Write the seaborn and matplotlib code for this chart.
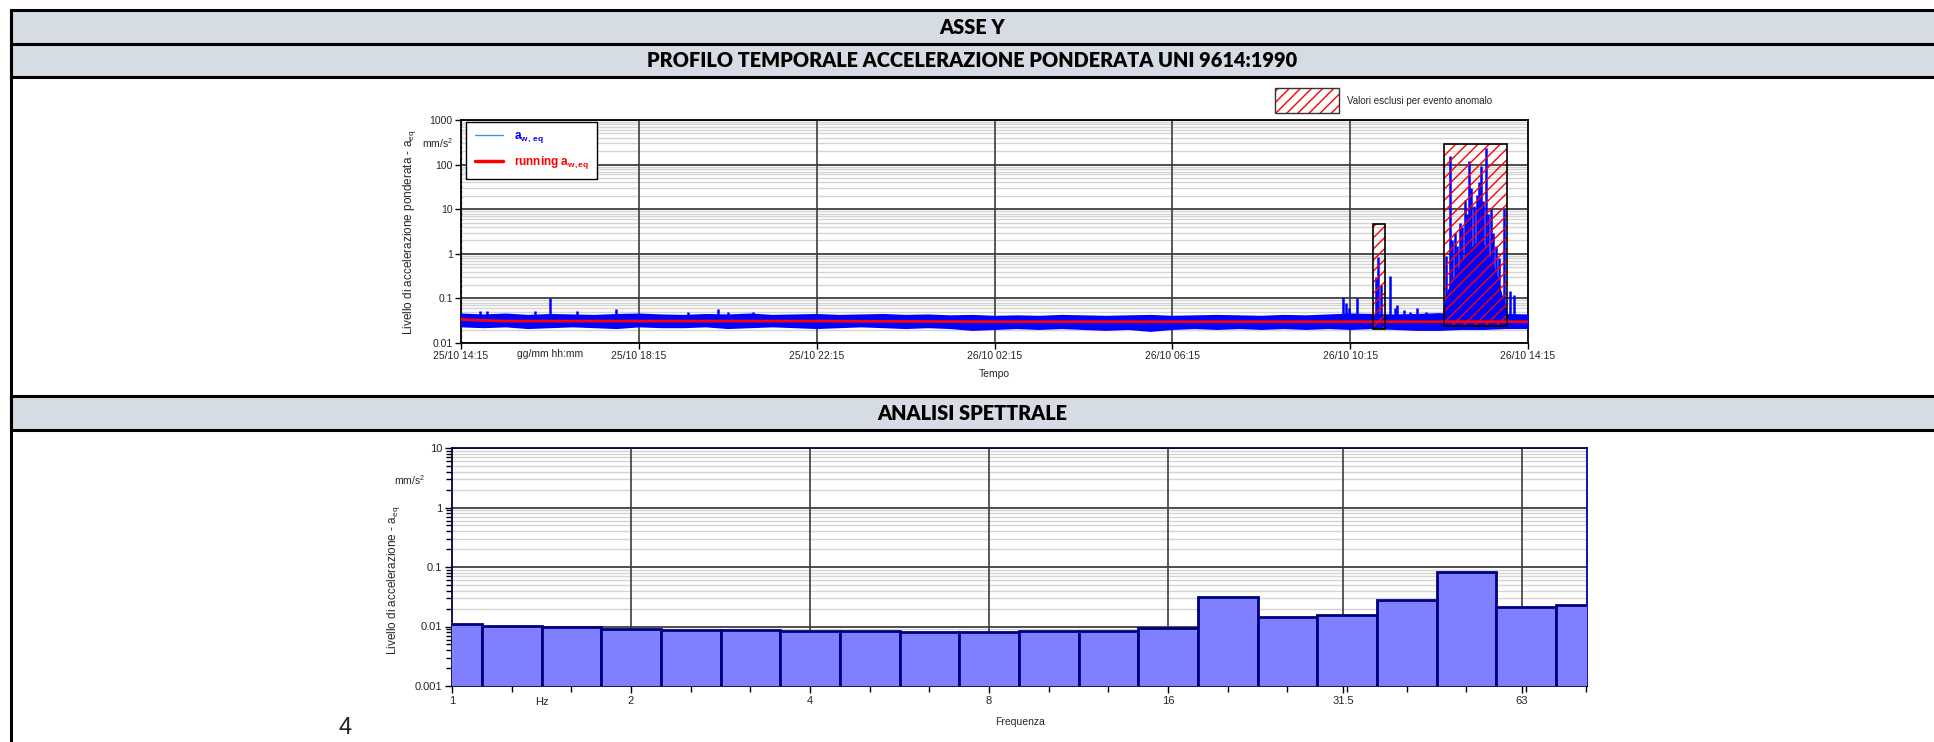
import numpy as np
import pandas as pd
import matplotlib
matplotlib.use("Agg")
import matplotlib.pyplot as plt
from matplotlib.patches import Rectangle
from matplotlib.lines import Line2D
from matplotlib.ticker import FixedLocator, FixedFormatter, NullFormatter, LogLocator
import seaborn as sns

sns.set_theme(style="white")
plt.rcParams['font.family'] = ['Liberation Sans Narrow', 'Liberation Sans', 'DejaVu Sans']
plt.rcParams['mathtext.fontset'] = 'custom'
plt.rcParams['mathtext.rm'] = 'Liberation Sans'
plt.rcParams['mathtext.it'] = 'Liberation Sans'
plt.rcParams['mathtext.bf'] = 'Liberation Sans:bold'
plt.rcParams['hatch.linewidth'] = 1.0
plt.rcParams['axes.edgecolor'] = 'black'

# ---------------- time profile (hours after 25/10 14:15) ----------------
time_ticks_h = [0, 4, 8, 12, 16, 20, 24]
time_tick_labels = ["25/10 14:15", "25/10 18:15", "25/10 22:15", "26/10 02:15",
                    "26/10 06:15", "26/10 10:15", "26/10 14:15"]
amp_ticks = [0.01, 0.1, 1, 10, 100, 1000]
amp_tick_labels = ["0.01", "0.1", "1", "10", "100", "1000"]

# envelope of the a_w,eq trace, sampled every 30 minutes
band_t = [0.0, 0.5, 1.0, 1.5, 2.0, 2.5, 3.0, 3.5, 4.0, 4.5, 5.0, 5.5, 6.0, 6.5, 7.0, 7.5,
          8.0, 8.5, 9.0, 9.5, 10.0, 10.5, 11.0, 11.5, 12.0, 12.5, 13.0, 13.5, 14.0, 14.5,
          15.0, 15.5, 16.0, 16.5, 17.0, 17.5, 18.0, 18.5, 19.0, 19.5, 20.0, 20.5, 21.0,
          21.5, 22.0, 22.5, 23.0, 23.5, 24.0]
band_hi = [0.045, 0.043, 0.045, 0.042, 0.044, 0.043, 0.042, 0.044, 0.045, 0.043, 0.042,
           0.044, 0.043, 0.045, 0.042, 0.043, 0.044, 0.042, 0.043, 0.044, 0.042, 0.043,
           0.041, 0.042, 0.040, 0.041, 0.040, 0.042, 0.041, 0.040, 0.041, 0.042, 0.040,
           0.041, 0.042, 0.041, 0.040, 0.042, 0.041, 0.043, 0.045, 0.044, 0.043, 0.044,
           0.046, 0.044, 0.045, 0.044, 0.043]
band_lo = [0.024, 0.023, 0.024, 0.022, 0.023, 0.024, 0.023, 0.022, 0.024, 0.023, 0.023,
           0.024, 0.022, 0.023, 0.024, 0.023, 0.022, 0.023, 0.024, 0.023, 0.022, 0.023,
           0.022, 0.020, 0.021, 0.022, 0.021, 0.022, 0.021, 0.020, 0.021, 0.019, 0.021,
           0.022, 0.021, 0.022, 0.021, 0.022, 0.021, 0.022, 0.021, 0.022, 0.021, 0.020,
           0.020, 0.021, 0.021, 0.022, 0.022]

# dense burst during the anomalous event
burst_t = [22.10, 22.20, 22.30, 22.40, 22.50, 22.60, 22.70, 22.80, 22.90, 23.00,
           23.10, 23.20, 23.30, 23.40, 23.50]
burst_hi = [0.05, 0.15, 0.25, 0.40, 0.60, 0.90, 1.30, 1.60, 2.00, 1.60, 1.00,
            0.60, 0.30, 0.12, 0.05]
burst_lo = [0.022, 0.025, 0.030, 0.035, 0.030, 0.040, 0.035, 0.030, 0.025, 0.030,
            0.025, 0.030, 0.025, 0.022, 0.022]

# isolated peaks of the a_w,eq trace
peak_t = [0.43, 0.58, 1.66, 2.00, 2.60, 3.49, 5.10, 5.78, 6.00, 6.57,
          19.84, 19.90, 19.97, 20.15, 20.58, 20.63, 20.70, 20.90, 21.00, 21.05,
          21.20, 21.35, 21.50, 21.70, 21.90,
          22.15, 22.24, 22.30, 22.35, 22.40, 22.47, 22.52, 22.58, 22.62, 22.67,
          22.72, 22.78, 22.85, 22.90, 22.94, 22.98, 23.05, 23.10, 23.17, 23.22,
          23.28, 23.35, 23.46, 23.59, 23.68]
peak_v = [0.052, 0.053, 0.052, 0.100, 0.052, 0.058, 0.050, 0.057, 0.050, 0.050,
          0.107, 0.080, 0.060, 0.100, 0.300, 0.850, 0.200, 0.310, 0.060, 0.070,
          0.055, 0.050, 0.060, 0.050, 0.045,
          0.90, 155.0, 2.0, 3.0, 1.5, 5.0, 4.0, 16.0, 8.0, 120.0,
          30.0, 12.0, 21.0, 40.0, 94.0, 15.0, 236.0, 8.0, 10.7, 3.0,
          1.5, 0.8, 10.0, 0.15, 0.12]

# running a_w,eq
run_t = [0.0, 0.2, 0.5, 1.0, 4.0, 8.0, 12.0, 16.0, 20.0, 24.0]
run_v = [0.034, 0.033, 0.032, 0.031, 0.031, 0.031, 0.030, 0.030, 0.030, 0.030]

# time windows excluded as anomalous
excl_start = [20.52, 22.11]
excl_end = [20.78, 23.53]
excl_lo = [0.0205, 0.024]
excl_hi = [4.7, 290.0]

# ---------------- 1/3 octave spectrum ----------------
band_labels = ["1", "1.25", "1.6", "2", "2.5", "3.15", "4", "5", "6.3", "8",
               "10", "12.5", "16", "20", "25", "31.5", "40", "50", "63", "80"]
band_values = [0.0110, 0.0103, 0.0097, 0.0092, 0.0088, 0.0087, 0.0085, 0.0083, 0.0082,
               0.0081, 0.0083, 0.0085, 0.0093, 0.0313, 0.0146, 0.0154, 0.0279, 0.0824,
               0.0210, 0.0227]
freq_ticks = [1, 2, 4, 8, 16, 31.5, 63]
freq_tick_labels = ["1", "2", "4", "8", "16", "31.5", "63"]
spec_ticks = [0.001, 0.01, 0.1, 1, 10]
spec_tick_labels = ["0.001", "0.01", "0.1", "1", "10"]

# ---------------- figure layout ----------------
W, H = 1934, 742
fig = plt.figure(figsize=(W / 100, H / 100), dpi=100)
fig.patch.set_facecolor("white")


def fx(x):
    return x / W


def fy(y):
    return 1 - y / H


HEAD = "#D6DCE4"
title_font = ['Lato', 'DejaVu Sans']
for (y0, y1, txt) in [(10, 44, "ASSE Y"),
                      (44, 77, "PROFILO TEMPORALE ACCELERAZIONE PONDERATA UNI 9614:1990"),
                      (396, 430, "ANALISI SPETTRALE")]:
    fig.add_artist(Rectangle((fx(11), fy(y1)), 1.2, (y1 - y0) / H,
                             transform=fig.transFigure, facecolor=HEAD,
                             edgecolor="black", lw=2.2, clip_on=False, zorder=0))
    fig.text(fx(972), fy((y0 + y1) / 2), txt, ha="center", va="center",
             fontsize=14.3, fontweight="heavy", family=title_font, color="#000000")
fig.add_artist(Line2D([fx(11), fx(11)], [fy(10), 0], transform=fig.transFigure,
                      color="black", lw=2.2))

# ---------------- time profile axes ----------------
ax1 = fig.add_axes([fx(461), fy(343), (1528 - 461) / W, (343 - 120) / H])
ax1.set_yscale("log")
ax1.set_xlim(0, 24)
ax1.set_ylim(0.01, 1000)

ax1.fill_between(band_t, band_lo, band_hi, color="#0000FF", lw=1.2, zorder=3)
ax1.fill_between(burst_t, burst_lo, burst_hi, color="#0000FF", lw=1.0, zorder=3)
ax1.vlines(peak_t, 0.03, peak_v, color="#0000FF", lw=1.8, zorder=3)
run_df = pd.DataFrame({"t": run_t, "v": run_v})
sns.lineplot(data=run_df, x="t", y="v", ax=ax1, color="#FF0000", lw=2.0, zorder=4)

for s, e, lo, hi in zip(excl_start, excl_end, excl_lo, excl_hi):
    ax1.add_patch(Rectangle((s, lo), e - s, hi - lo, facecolor="none", edgecolor="#FF0000",
                            hatch="///", lw=0, zorder=5))
    ax1.add_patch(Rectangle((s, lo), e - s, hi - lo, facecolor="none", edgecolor="black",
                            lw=1.2, zorder=6))

ax1.xaxis.set_major_locator(FixedLocator(time_ticks_h))
ax1.xaxis.set_major_formatter(FixedFormatter(time_tick_labels))
ax1.yaxis.set_major_locator(FixedLocator(amp_ticks))
ax1.yaxis.set_major_formatter(FixedFormatter(amp_tick_labels))
ax1.yaxis.set_minor_locator(LogLocator(base=10, subs=np.arange(2, 10), numticks=20))
ax1.yaxis.set_minor_formatter(NullFormatter())
ax1.grid(which="minor", axis="y", color="#D4D4D4", lw=1.0, zorder=0)
ax1.grid(which="major", axis="y", color="#303030", lw=1.2, zorder=1)
for t in time_ticks_h[1:-1]:
    ax1.axvline(t, color="#3C3C3C", lw=1.2, zorder=1.5)
ax1.axvline(0, color="#555555", lw=1.0, ls=(0, (2, 2)), zorder=1.5)
ax1.set_axisbelow(True)
ax1.tick_params(axis="both", which="major", direction="out", length=4, width=1,
                labelsize=7.5, pad=2, color="black", left=True, bottom=True)
ax1.tick_params(axis="y", which="minor", length=0)
for sp in ax1.spines.values():
    sp.set_color("black")
    sp.set_linewidth(1.3)
ax1.set_xlabel("")
ax1.set_ylabel("")
ax1.text(2.0, -0.028, "gg/mm hh:mm", transform=ax1.get_xaxis_transform(),
         ha="center", va="top", fontsize=7.5)
fig.text(fx(994), fy(374), "Tempo", ha="center", va="center", fontsize=7.5)
fig.text(fx(409), fy(232), "Livello di accelerazione ponderata - a$_{eq}$",
         rotation=90, ha="center", va="center", fontsize=8.5)
fig.text(fx(438), fy(143), "mm/s$^{2}$", ha="center", va="center", fontsize=7.5)

legend_handles = [Line2D([], [], color="#4A90E2", lw=1.0),
                  Line2D([], [], color="#FF0000", lw=2.5)]
leg = ax1.legend(legend_handles, [r"$\mathbf{a_{w,\ eq}}$", r"running $\mathbf{a_{w,eq}}$"],
                 loc="upper left", bbox_to_anchor=(0.005, 0.993), borderaxespad=0,
                 frameon=True, fancybox=False, edgecolor="black", framealpha=1,
                 prop={"size": 8.5, "weight": "bold"}, handlelength=2.4,
                 borderpad=0.7, labelspacing=0.75, handletextpad=0.9)
leg.get_frame().set_linewidth(1.0)
leg.set_zorder(10)
for txt, col in zip(leg.get_texts(), ["#0000FF", "#FF0000"]):
    txt.set_color(col)

# legend for excluded windows, above the plot
fig.add_artist(Rectangle((fx(1275), fy(113)), (1339 - 1275) / W, 25 / H,
                         transform=fig.transFigure, facecolor="none", edgecolor="#FF0000",
                         hatch="///", lw=0))
fig.add_artist(Rectangle((fx(1275), fy(113)), (1339 - 1275) / W, 25 / H,
                         transform=fig.transFigure, facecolor="none", edgecolor="#333333",
                         lw=1.0))
fig.text(fx(1347), fy(101), "Valori esclusi per evento anomalo", ha="left", va="center",
         fontsize=7)

# ---------------- spectrum axes ----------------
ax2 = fig.add_axes([fx(452), fy(686), (1587 - 452) / W, (686 - 448) / H])
ax2.set_xscale("log")
ax2.set_yscale("log")
ax2.set_xlim(1, 81)
ax2.set_ylim(0.001, 10)

k = np.arange(len(band_labels))
centers = 2.0 ** (k / 3.0)
lefts = centers * 2.0 ** (-1 / 6)
rights = centers * 2.0 ** (1 / 6)
ax2.bar(lefts, band_values, width=rights - lefts, align="edge", color="#8080FF",
        edgecolor="#00007F", lw=2.0, zorder=3)

ax2.xaxis.set_major_locator(FixedLocator(freq_ticks))
ax2.xaxis.set_major_formatter(FixedFormatter(freq_tick_labels))
ax2.xaxis.set_minor_locator(FixedLocator(list(centers)))
ax2.xaxis.set_minor_formatter(NullFormatter())
ax2.yaxis.set_major_locator(FixedLocator(spec_ticks))
ax2.yaxis.set_major_formatter(FixedFormatter(spec_tick_labels))
ax2.yaxis.set_minor_locator(LogLocator(base=10, subs=np.arange(2, 10), numticks=20))
ax2.yaxis.set_minor_formatter(NullFormatter())
ax2.grid(which="minor", axis="y", color="#D4D4D4", lw=1.0, zorder=0)
ax2.grid(which="major", axis="y", color="#303030", lw=1.2, zorder=1)
for f in freq_ticks[1:]:
    ax2.axvline(f, color="#3C3C3C", lw=1.2, zorder=1.5)
ax2.set_axisbelow(True)
ax2.tick_params(axis="both", which="major", direction="out", length=5, width=1,
                labelsize=8, pad=2, color="black", left=True, bottom=True)
ax2.tick_params(axis="both", which="minor", direction="out", length=4, width=1,
                color="black", left=True, bottom=True)
for name, sp in ax2.spines.items():
    sp.set_color("#000040")
    sp.set_linewidth(1.3)
ax2.spines["right"].set_color("#0000A0")
ax2.set_xlabel("")
ax2.set_ylabel("")
ax2.text(np.sqrt(2), -0.045, "Hz", transform=ax2.get_xaxis_transform(),
         ha="center", va="top", fontsize=8)
fig.text(fx(1020), fy(722), "Frequenza", ha="center", va="center", fontsize=7.5)
fig.text(fx(393), fy(580), "Livello di accelerazione - a$_{eq}$",
         rotation=90, ha="center", va="center", fontsize=8.5)
fig.text(fx(410), fy(480), "mm/s$^{2}$", ha="center", va="center", fontsize=7.5)

fig.text(fx(345), fy(728), "4", ha="center", va="center", fontsize=17, color="#222222")

fig.savefig("out.png", dpi=100, facecolor="white")
